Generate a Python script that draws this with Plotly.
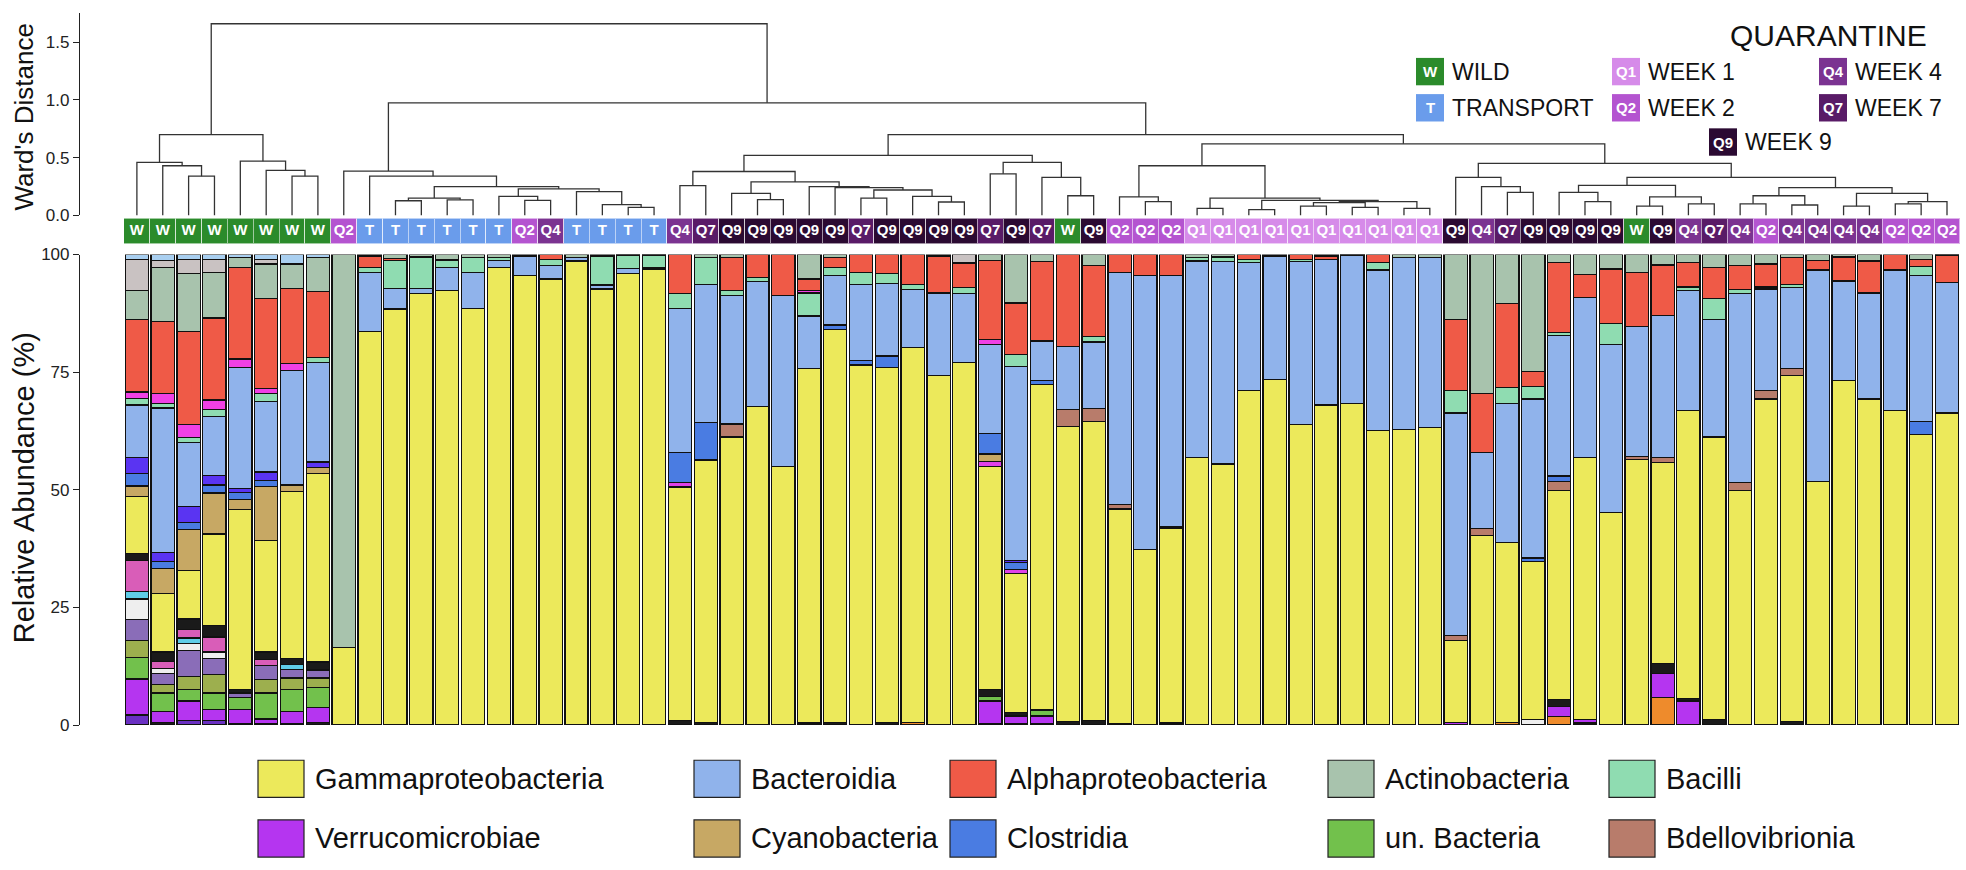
import plotly.graph_objects as go

# ---------------- data ----------------
SAMPLE_GROUPS = ["W", "W", "W", "W", "W", "W", "W", "W", "Q2",
                 "T", "T", "T", "T", "T", "T", "Q2", "Q4", "T", "T", "T", "T",
                 "Q4", "Q7", "Q9", "Q9", "Q9", "Q9", "Q9", "Q7", "Q9", "Q9", "Q9", "Q9",
                 "Q7", "Q9", "Q7", "W", "Q9", "Q2", "Q2", "Q2",
                 "Q1", "Q1", "Q1", "Q1", "Q1", "Q1", "Q1", "Q1", "Q1", "Q1",
                 "Q9", "Q4", "Q7", "Q9", "Q9", "Q9", "Q9", "W", "Q9", "Q4", "Q7",
                 "Q4", "Q2", "Q4", "Q4", "Q4", "Q4", "Q2", "Q2", "Q2"]

# minor / unlabelled taxa (stacked at bottom)
other_black_base = [0, 0.6, 0, 0, 0.2, 0.2, 0.2, 0.6, 0, 0, 0, 0, 0, 0, 0, 0, 0, 0, 0, 0, 0,
                    0.9, 0.5, 0, 0, 0, 0.4, 0.6, 0, 0.6, 0, 0, 0, 0.2, 0.2, 0.2, 0.7, 0.9, 0.3, 0, 0.4,
                    0, 0, 0, 0, 0, 0, 0, 0, 0, 0, 0, 0, 0, 0, 0, 0, 0, 0, 0, 0, 1.2, 0, 0, 0.7,
                    0, 0, 0, 0, 0, 0]
other_orange = [0]*30 + [0.5] + [0]*22 + [0.5, 0, 1.8, 0.4, 0, 0, 5.8] + [0]*11
other_darkpurple = [2.1, 0, 0.9, 0.9] + [0]*67
verrucomicrobiae = [7.7, 2.2, 4.2, 2.4, 3.1, 1.1, 2.6, 3.1] + [0]*25 + [4.9, 1.7, 1.7] + [0]*15 + \
                   [0.6, 0, 0, 0, 2.2, 0.8, 0, 0, 5.2, 5.1] + [0]*10
un_bacteria = [4.6, 4.0, 2.4, 3.5, 2.5, 5.5, 4.7, 4.2] + [0]*25 + [1.0, 0, 1.3] + [0]*35
other_olive = [3.6, 1.8, 2.8, 3.9, 0, 2.8, 2.5, 2.1] + [0]*63
other_purplegrey = [4.4, 2.4, 5.6, 3.4, 1.0, 3.1, 1.8, 1.7] + [0]*63
other_white = [4.4, 1.0, 1.4, 1.4] + [0]*50 + [1.2] + [0]*16
other_cyan = [1.6, 0, 1.2, 0, 0, 0, 1.0] + [0]*64
other_pink = [6.5, 1.5, 1.8, 3.2, 0, 1.2] + [0]*65
other_black = [1.5, 2.0, 2.2, 2.4, 0.7, 1.6, 1.3, 1.7] + [0]*25 + [1.4, 0.7] + [0]*20 + \
              [1.4, 0, 0, 0, 2.0, 0.5] + [0]*10
gammaproteobacteria = [12.2, 12.5, 10.4, 19.5, 38.3, 23.7, 35.5, 40.0, 16.4,
                       83.7, 88.4, 91.7, 92.4, 88.6, 97.3, 95.5, 94.8, 98.6, 92.7, 96.0, 96.9,
                       49.7, 55.8, 61.2, 67.7, 54.9, 75.3, 83.5, 76.5, 75.4, 79.7, 74.3, 77.0,
                       47.5, 29.6, 69.1, 62.8, 63.6, 45.6, 37.3, 41.3,
                       56.9, 55.5, 71.1, 73.4, 63.8, 68.0, 68.4, 62.6, 62.8, 63.3,
                       17.3, 40.3, 38.3, 33.6, 44.5, 55.7, 45.2, 56.5, 42.8, 61.2, 60.0,
                       49.9, 69.3, 73.6, 51.7, 73.2, 69.3, 66.8, 61.8, 66.3]
other_magenta_low = [0]*21 + [1.0] + [0]*11 + [1.0, 0.8] + [0]*36
bdellovibrionia = [0]*23 + [2.8] + [0]*12 + [3.5, 2.8, 0.9, 0, 0.4] + [0]*10 + \
                  [1.1, 1.4, 0, 0, 1.9, 0, 0, 0.5, 1.1, 0, 0, 1.6, 1.8, 1.5] + [0]*6
cyanobacteria = [2.2, 5.3, 8.7, 8.7, 2.1, 11.5, 1.4, 1.4] + [0]*25 + [1.6] + [0]*37
clostridia = [2.6, 1.4, 1.4, 1.7, 1.5, 1.2] + [0]*15 + [6.3, 8.0, 0, 0, 0, 0, 0.9, 1.0, 2.4] + \
             [0]*3 + [4.3, 1.6, 0.9] + [0]*18 + [0.7, 1.1] + [0]*13 + [2.7, 0]
other_violet = [3.5, 2.0, 3.5, 2.1, 0.9, 1.9, 0, 1.1] + [0]*26 + [0.4] + [0]*36
bacteroidia = [11.1, 30.7, 13.5, 12.5, 25.7, 15.0, 24.4, 21.2, 0,
               12.5, 4.4, 1.1, 4.9, 7.6, 1.4, 4.2, 2.8, 0.7, 0.8, 1.1, 0.3,
               30.6, 29.4, 27.3, 26.5, 36.4, 11.2, 10.5, 16.2, 15.5, 12.3, 17.5, 14.7,
               19.0, 41.2, 8.4, 13.5, 14.1, 49.4, 58.2, 53.4,
               41.7, 43.0, 27.2, 26.3, 34.7, 31.0, 31.5, 34.1, 36.5, 36.0,
               47.3, 16.2, 29.6, 33.8, 29.9, 33.9, 35.7, 27.7, 30.2, 25.6, 25.0,
               40.2, 21.6, 17.2, 45.0, 21.2, 22.5, 29.9, 31.0, 27.8]
bacilli = [1.4, 1.0, 1.1, 1.4, 0, 1.7, 0, 1.0, 0,
           1.1, 5.9, 6.7, 1.4, 3.2, 0.7, 0, 1.4, 0, 6.2, 2.8, 2.7,
           3.2, 5.6, 1.0, 0.9, 0, 4.9, 1.7, 2.5, 2.1, 1.2, 0, 1.3,
           0, 2.5, 0, 0, 1.2, 0, 0, 0,
           0.7, 1.0, 0.7, 0, 0.5, 0, 0, 1.6, 0, 0,
           4.8, 0, 3.4, 2.7, 0.6, 0, 4.4, 0, 0, 0.7, 4.4,
           0.8, 0.4, 0.6, 0, 0, 0, 0, 1.9, 0]
other_magenta_high = [1.4, 2.1, 2.8, 2.1, 1.8, 1.0, 1.4] + [0]*19 + [0.5] + [0]*6 + [1.1] + [0]*37
alphaproteobacteria = [15.4, 15.3, 19.8, 17.4, 19.5, 19.2, 16.0, 14.0, 0,
                       2.4, 0.5, 0, 0.3, 0, 0, 0, 1.0, 0, 0, 0, 0,
                       8.3, 0, 7.1, 4.9, 8.7, 2.5, 2.1, 3.8, 4.0, 6.3, 7.9, 5.2,
                       16.7, 11.0, 16.9, 19.5, 15.0, 3.8, 4.5, 4.5,
                       0, 0, 1.0, 0, 1.0, 0.7, 0, 1.7, 0, 0,
                       15.1, 12.5, 17.8, 3.1, 14.9, 5.0, 11.6, 11.5, 10.7, 5.2, 6.6,
                       5.1, 4.9, 5.7, 2.1, 5.1, 6.8, 3.3, 1.6, 5.8]
actinobacteria = [6.2, 11.5, 12.2, 9.7, 2.1, 7.3, 5.2, 7.3, 83.6,
                  0.3, 0.8, 0.5, 1.0, 0.6, 0.6, 0.3, 0, 0.7, 0.3, 0.1, 0.1,
                  0, 0.7, 0.6, 0, 0, 5.2, 0.7, 0, 0, 0, 0.3, 0,
                  1.3, 10.3, 1.5, 0, 2.4, 0, 0, 0,
                  0.7, 0.5, 0, 0.3, 0, 0.3, 0.1, 0, 0.7, 0.7,
                  13.8, 29.6, 10.4, 24.9, 1.7, 4.2, 3.1, 3.8, 2.2, 1.7, 2.8,
                  2.4, 2.0, 0.7, 1.2, 0.5, 1.4, 0, 1.0, 0.1]
other_lightgrey = [6.6, 1.4, 3.1, 2.8, 0, 1.0] + [0]*26 + [1.8] + [0]*38
other_lightblue = [1.0, 1.3, 1.0, 1.0, 0.6, 1.0, 2.0, 0.6] + [0]*63

LEGEND_ROW1 = ["Gammaproteobacteria", "Bacteroidia", "Alphaproteobacteria", "Actinobacteria", "Bacilli"]
LEGEND_ROW2 = ["Verrucomicrobiae", "Cyanobacteria", "Clostridia", "un. Bacteria", "Bdellovibrionia"]

GROUP_CODES = ["W", "T", "Q1", "Q2", "Q4", "Q7", "Q9"]
GROUP_NAMES = ["WILD", "TRANSPORT", "WEEK 1", "WEEK 2", "WEEK 4", "WEEK 7", "WEEK 9"]

# Ward dendrogram: (child a, child b, height); ids >= 71 refer to earlier merges
DENDRO_MERGES = [
    (2, 3, 0.34), (1, 71, 0.43), (0, 72, 0.46), (6, 7, 0.34), (5, 74, 0.39),
    (4, 75, 0.47), (73, 76, 0.70),
    (10, 11, 0.127), (12, 13, 0.135), (78, 79, 0.15), (15, 16, 0.13), (14, 81, 0.164),
    (19, 20, 0.07), (18, 83, 0.093), (17, 84, 0.206), (82, 85, 0.23), (80, 86, 0.25),
    (9, 87, 0.34), (8, 88, 0.384),
    (21, 22, 0.257), (24, 25, 0.136), (23, 91, 0.19), (28, 29, 0.15), (31, 32, 0.116),
    (30, 94, 0.164), (93, 95, 0.22), (27, 96, 0.24), (26, 97, 0.25), (92, 98, 0.29),
    (90, 99, 0.38), (33, 34, 0.36), (36, 37, 0.17), (35, 102, 0.33), (101, 103, 0.46),
    (100, 104, 0.52),
    (39, 40, 0.12), (38, 106, 0.16), (41, 42, 0.06), (43, 44, 0.05), (45, 46, 0.08),
    (47, 48, 0.07), (49, 50, 0.06), (110, 111, 0.11), (113, 112, 0.12), (109, 114, 0.13),
    (108, 115, 0.15), (107, 116, 0.43),
    (53, 54, 0.20), (52, 118, 0.25), (51, 119, 0.33), (56, 57, 0.12), (55, 121, 0.20),
    (58, 59, 0.08), (60, 61, 0.10), (123, 124, 0.16), (122, 125, 0.26), (62, 63, 0.10),
    (64, 65, 0.09), (127, 128, 0.17), (66, 67, 0.08), (68, 69, 0.10), (131, 70, 0.12),
    (130, 132, 0.19), (129, 133, 0.24), (126, 134, 0.33), (120, 135, 0.45),
    (117, 136, 0.62), (105, 137, 0.70), (89, 138, 0.975), (77, 139, 1.66),
]

WARD_TICKS = [0.0, 0.5, 1.0, 1.5]
ABUND_TICKS = [0, 25, 50, 75, 100]

# ---------------- styling ----------------
W_PX, H_PX = 1966, 870
FONT = "Liberation Sans, Arial, sans-serif"

GROUP_COLORS = {"W": "#2B8B2B", "T": "#6A9CEB", "Q1": "#D68BE9", "Q2": "#B454D0",
                "Q4": "#7B3391", "Q7": "#591B67", "Q9": "#2B0A32"}

SERIES = [  # bottom -> top
    ("oth_black0", other_black_base, "#1A1A1A"),
    ("oth_orange", other_orange, "#EE8B2C"),
    ("oth_darkpurple", other_darkpurple, "#6A30C2"),
    ("Verrucomicrobiae", verrucomicrobiae, "#B535F0"),
    ("un. Bacteria", un_bacteria, "#72C14C"),
    ("oth_olive", other_olive, "#9DAF4E"),
    ("oth_purplegrey", other_purplegrey, "#8A6DB8"),
    ("oth_white", other_white, "#EEEEEE"),
    ("oth_cyan", other_cyan, "#5FCDE8"),
    ("oth_pink", other_pink, "#D95DB8"),
    ("oth_black", other_black, "#1A1A1A"),
    ("Gammaproteobacteria", gammaproteobacteria, "#ECE95B"),
    ("oth_magenta_low", other_magenta_low, "#E040E8"),
    ("Bdellovibrionia", bdellovibrionia, "#B87C6B"),
    ("Cyanobacteria", cyanobacteria, "#C7A864"),
    ("Clostridia", clostridia, "#4A7CE2"),
    ("oth_violet", other_violet, "#5A34F2"),
    ("Bacteroidia", bacteroidia, "#90B3EB"),
    ("Bacilli", bacilli, "#8FDCB1"),
    ("oth_magenta_high", other_magenta_high, "#F040E4"),
    ("Alphaproteobacteria", alphaproteobacteria, "#EF5A47"),
    ("Actinobacteria", actinobacteria, "#A8C3AD"),
    ("oth_lightgrey", other_lightgrey, "#C9C2C2"),
    ("oth_lightblue", other_lightblue, "#A9CFF0"),
]
SERIES_COLOR = {name: col for name, _, col in SERIES}

N = len(SAMPLE_GROUPS)
XIDX = list(range(N))


def px(x):
    return x / W_PX


def py(y):
    return 1 - y / H_PX


X_RANGE = [-2.2, 70.58]
X_DOMAIN = [px(80), px(1962)]

fig = go.Figure()

# stacked bars
for name, vals, col in SERIES:
    fig.add_trace(go.Bar(
        x=XIDX, y=[v if v else None for v in vals], name=name,
        marker=dict(color=col, line=dict(color="#111111", width=1.3)),
        width=0.9, showlegend=False, xaxis="x", yaxis="y", hoverinfo="skip"))

# sample group strip
fig.add_trace(go.Bar(
    x=XIDX, y=[1] * N, base=0, width=1.0,
    marker=dict(color=[GROUP_COLORS[g] for g in SAMPLE_GROUPS],
                line=dict(color="rgba(255,255,255,0.55)", width=1)),
    showlegend=False, xaxis="x3", yaxis="y3", hoverinfo="skip"))
fig.add_trace(go.Scatter(
    x=XIDX, y=[0.5] * N, mode="text", text=["<b>%s</b>" % g for g in SAMPLE_GROUPS],
    textfont=dict(color="white", size=15, family=FONT),
    showlegend=False, xaxis="x3", yaxis="y3", hoverinfo="skip"))

# dendrogram
pos = {i: float(i) for i in range(N)}
hgt = {i: 0.0 for i in range(N)}
dx, dy = [], []
for k, (a, b, h) in enumerate(DENDRO_MERGES):
    xa, xb = pos[a], pos[b]
    dx += [xa, xa, xb, xb, None]
    dy += [hgt[a], h, h, hgt[b], None]
    pos[N + k] = (xa + xb) / 2
    hgt[N + k] = h
fig.add_trace(go.Scatter(x=dx, y=dy, mode="lines", line=dict(color="#333333", width=1.3),
                         showlegend=False, xaxis="x2", yaxis="y2", hoverinfo="skip"))

shapes = []
annotations = []

# bottom legend (manual, 5 columns x 2 rows)
SW_LEFT = [258, 694, 950, 1328, 1609]
ROW_Y = [787, 848]
for r, row in enumerate([LEGEND_ROW1, LEGEND_ROW2]):
    for c, name in enumerate(row):
        x0 = SW_LEFT[c]
        yc = ROW_Y[r]
        shapes.append(dict(type="rect", xref="paper", yref="paper",
                           x0=px(x0), x1=px(x0 + 46), y0=py(yc + 19), y1=py(yc - 19),
                           fillcolor=SERIES_COLOR[name], line=dict(color="#222222", width=1.2)))
        annotations.append(dict(xref="paper", yref="paper", x=px(x0 + 55), y=py(yc),
                                text=name, showarrow=False, xanchor="left", yanchor="middle",
                                font=dict(size=29, color="#111111", family=FONT)))

# top-right group key
KEY_POS = {"W": (1416, 64), "T": (1416, 101), "Q1": (1612, 64), "Q2": (1612, 101),
           "Q4": (1819, 64), "Q7": (1819, 101), "Q9": (1709, 136)}
for code, label in zip(GROUP_CODES, GROUP_NAMES):
    x0, yc = KEY_POS[code]
    shapes.append(dict(type="rect", xref="paper", yref="paper",
                       x0=px(x0), x1=px(x0 + 28), y0=py(yc + 14), y1=py(yc - 14),
                       fillcolor=GROUP_COLORS[code], line=dict(width=0)))
    annotations.append(dict(xref="paper", yref="paper", x=px(x0 + 14), y=py(yc),
                            text="<b>%s</b>" % code, showarrow=False,
                            xanchor="center", yanchor="middle",
                            font=dict(size=15, color="white", family=FONT)))
    annotations.append(dict(xref="paper", yref="paper", x=px(x0 + 34), y=py(yc),
                            text=label, showarrow=False, xanchor="left", yanchor="middle",
                            font=dict(size=23, color="#111111", family=FONT)))
annotations.append(dict(xref="paper", yref="paper", x=px(1828), y=py(27), text="QUARANTINE",
                        showarrow=False, xanchor="center", yanchor="middle",
                        font=dict(size=30, color="#111111", family=FONT)))

# axis titles
annotations.append(dict(xref="paper", yref="paper", x=px(24), y=py(490),
                        text="Relative Abundance (%)", textangle=-90, showarrow=False,
                        xanchor="center", yanchor="middle",
                        font=dict(size=29, color="#111111", family=FONT)))
annotations.append(dict(xref="paper", yref="paper", x=px(24), y=py(110),
                        text="Ward's Distance", textangle=-90, showarrow=False,
                        xanchor="center", yanchor="middle",
                        font=dict(size=26, color="#111111", family=FONT)))

axis_common_x = dict(range=X_RANGE, domain=X_DOMAIN, showgrid=False, zeroline=False,
                     showticklabels=False, ticks="", showline=False, fixedrange=True)

fig.update_layout(
    width=W_PX, height=H_PX, autosize=False,
    margin=dict(l=0, r=0, t=0, b=0, pad=0),
    paper_bgcolor="white", plot_bgcolor="rgba(0,0,0,0)",
    barmode="stack", bargap=0.1,
    font=dict(family=FONT, color="#111111"),
    xaxis=dict(**axis_common_x),
    xaxis2=dict(**axis_common_x, anchor="y2"),
    xaxis3=dict(**axis_common_x, anchor="y3"),
    yaxis=dict(domain=[py(732), py(251)], range=[0, 100], tickvals=ABUND_TICKS,
               ticktext=[str(t) for t in ABUND_TICKS], ticks="outside", ticklen=6,
               tickcolor="#222222", tickwidth=1.2,
               showline=True, linecolor="#222222", linewidth=1.2,
               showgrid=False, zeroline=False, anchor="x",
               tickfont=dict(size=17, color="#222222", family=FONT), fixedrange=True),
    yaxis2=dict(domain=[py(211), py(4)], range=[0, 1.754], tickvals=WARD_TICKS,
                ticktext=["%.1f" % t for t in WARD_TICKS], ticks="outside", ticklen=6,
                tickcolor="#222222", tickwidth=1.2,
                showline=True, linecolor="#222222", linewidth=1.2,
                showgrid=False, zeroline=False, anchor="x2",
                tickfont=dict(size=17, color="#222222", family=FONT), fixedrange=True),
    yaxis3=dict(domain=[py(240), py(214)], range=[0, 1], showgrid=False, zeroline=False,
                showticklabels=False, ticks="", showline=False, anchor="x3", fixedrange=True),
    shapes=shapes, annotations=annotations,
)

fig.write_html("out.html", config={"displayModeBar": False},
               post_script="document.body.style.margin='0';document.body.style.overflow='hidden';")
